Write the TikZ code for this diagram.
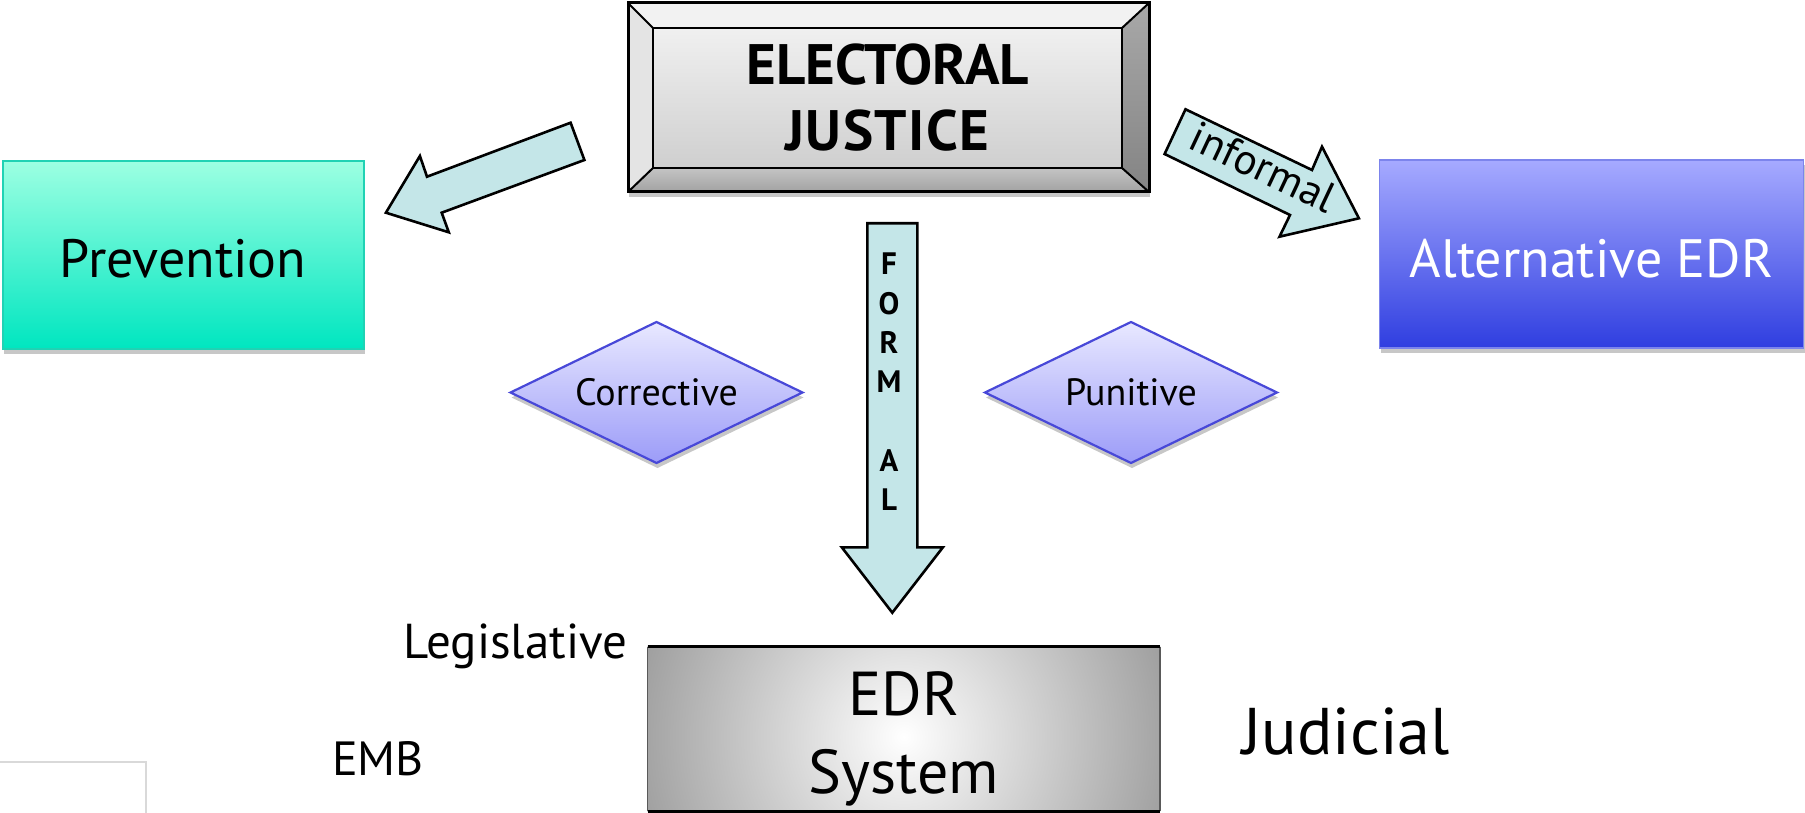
\documentclass[tikz,border=0pt]{standalone}
\usepackage{fontspec}
\setmainfont{PT Sans}
\usetikzlibrary{shapes.geometric,shadows}
\definecolor{arrowfill}{HTML}{C4E6E8}
\definecolor{prevtop}{HTML}{9CFFE2}
\definecolor{prevbot}{HTML}{00E6C0}
\definecolor{prevline}{HTML}{20D2B4}
\definecolor{alttop}{HTML}{A6AAFF}
\definecolor{altbot}{HTML}{2F3EE0}
\definecolor{altline}{HTML}{7C84EC}
\definecolor{diamtop}{HTML}{E8E8FF}
\definecolor{diambot}{HTML}{9C9CF8}
\definecolor{diamline}{HTML}{4848D8}
\definecolor{edrgray}{HTML}{9E9E9E}
\definecolor{bevtop}{HTML}{F2F2F2}
\definecolor{bevleft}{HTML}{E4E4E4}
\definecolor{bevrighttop}{HTML}{A8A8A8}
\definecolor{bevrightbot}{HTML}{848484}
\definecolor{bevbottop}{HTML}{C4C4C4}
\definecolor{bevbotbot}{HTML}{A2A2A2}
\definecolor{facetop}{HTML}{F0F0F0}
\definecolor{facebot}{HTML}{CFCFCF}
\begin{document}
\begin{tikzpicture}[x=1pt,y=-1pt,
  blockarrow/.style={draw=black,line width=2.6pt,fill=arrowfill,line join=miter,miter limit=10},
  mainbox/.style={rectangle,inner sep=0pt,outer sep=0pt},
  softshadow/.style={drop shadow={shadow xshift=1pt,shadow yshift=-5pt,opacity=0.22,fill=black}},
  diam/.style={diamond,aspect=2.06,draw=diamline,line width=2.2pt,top color=diamtop,bottom color=diambot,
    minimum width=292pt,minimum height=141pt,inner sep=0pt,outer sep=0pt,
    font=\fontsize{38}{44}\selectfont,softshadow},
  freetext/.style={anchor=base,inner sep=0pt,outer sep=0pt}
]
\useasboundingbox (0,0) rectangle (1805,813);
\fill[white] (0,0) rectangle (1805,813);

% partially visible box at bottom left
\draw[gray!30,line width=1.2pt] (0,762) -- (146,762) -- (146,813);

% Electoral justice bevelled box
\node[mainbox,minimum width=521pt,minimum height=189pt,fill=white,softshadow] (ejout) at (888.5,97.5) {};
\node[mainbox,minimum width=469pt,minimum height=140pt] (ejface) at (887.5,98) {};
\fill[bevtop] (ejout.north west) -- (ejout.north east) -- (ejface.north east) -- (ejface.north west) -- cycle;
\fill[bevleft] (ejout.north west) -- (ejface.north west) -- (ejface.south west) -- (ejout.south west) -- cycle;
\shade[top color=bevrighttop,bottom color=bevrightbot] (ejout.north east) -- (ejout.south east) -- (ejface.south east) -- (ejface.north east) -- cycle;
\shade[top color=bevbottop,bottom color=bevbotbot] (ejout.south west) -- (ejface.south west) -- (ejface.south east) -- (ejout.south east) -- cycle;
\node[mainbox,minimum width=469pt,minimum height=140pt,top color=facetop,bottom color=facebot,draw=black,line width=2.2pt,
  align=center,font=\bfseries\fontsize{57}{66}\selectfont] (ej) at (887.5,98) {ELECTORAL\\J\kern1.5pt U\kern1.5pt S\kern1.5pt T\kern1.5pt I\kern1.5pt C\kern1.5pt E};
\draw[line width=2pt] (ejout.north west) -- (ej.north west) (ejout.north east) -- (ej.north east)
  (ejout.south west) -- (ej.south west) (ejout.south east) -- (ej.south east);
\draw[line width=3pt] (ejout.north west) rectangle (ejout.south east);

% Prevention
\node[mainbox,draw=prevline,line width=2pt,top color=prevtop,bottom color=prevbot,
  minimum width=361pt,minimum height=187pt,text height=44pt,text depth=0pt,
  font=\fontsize{54}{60}\selectfont,softshadow] (prev) at (183,255) {Prevention};

% Alternative EDR
\node[mainbox,draw=altline,line width=1.6pt,top color=alttop,bottom color=altbot,text=white,
  minimum width=424pt,minimum height=188pt,text height=46pt,text depth=0pt,
  font=\fontsize{54}{60}\selectfont,softshadow] (alt) at (1591.5,254) {Alternative EDR};

% Diamonds
\node[diam] (corr) at (656.5,392.5) {Corrective};
\node[diam] (pun) at (1131,392.5) {Punitive};

% Block arrows
\draw[blockarrow] (570.6,122.7) -- (584.4,160) -- (441.7,212.7) -- (448.8,232.3) -- (385.9,212.7)
  -- (419.9,156) -- (427,176.7) -- cycle;
\draw[blockarrow] (1185.5,109.3) -- (1312,170) -- (1322,146.7) -- (1358.9,218.3) -- (1279.5,236.7)
  -- (1290,215) -- (1164.6,154) -- cycle;
\draw[blockarrow] (867.3,223.3) -- (917.3,223.3) -- (917.3,547.3) -- (942.9,547.3) -- (892.3,612.7)
  -- (841.8,547.3) -- (867.3,547.3) -- cycle;
\node[inner sep=0pt,rotate=-25.2,font=\fontsize{43}{46}\selectfont] (inf) at (1263,167) {informal};
\node[inner sep=0pt,align=center,font=\bfseries\fontsize{31}{39.3}\selectfont] (formal) at (889,382)
  {F\\O\\R\\M\\[39.3pt]A\\L};

% EDR System box
\node[mainbox,minimum width=512.5pt,minimum height=164.5pt] (edr) at (903.75,728.75) {};
\begin{scope}
  \clip (edr.north west) rectangle (edr.south east);
  \shade[inner color=white,outer color=edrgray] ([yshift=-8pt]edr.center) circle (275pt);
\end{scope}
\draw[black!65,line width=1.4pt] (edr.north west) -- (edr.south west) (edr.north east) -- (edr.south east);
\draw[line width=3pt] (edr.north west) -- (edr.north east) (edr.south west) -- (edr.south east);
\node[inner sep=0pt,align=center,font=\fontsize{62}{78.5}\selectfont] (edrtext) at (903.75,739) {EDR\\System};

% free labels
\node[freetext,font=\fontsize{49}{56}\selectfont] (leg) at (515.5,658) {Legislative};
\node[freetext,font=\fontsize{48}{54}\selectfont] (emb) at (378,775) {EMB};
\node[freetext,font=\fontsize{66}{72}\selectfont] (jud) at (1346,754) {Judicial};
\end{tikzpicture}
\end{document}
